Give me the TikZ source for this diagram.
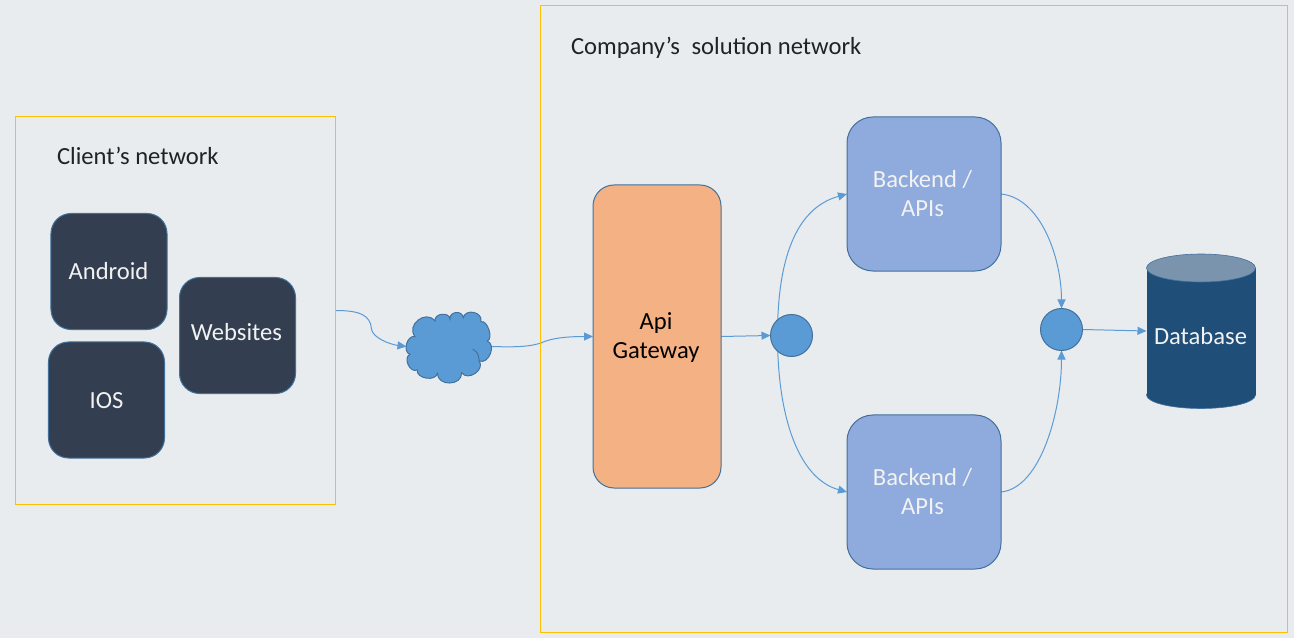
\documentclass[tikz,border=0pt]{standalone}
\usepackage{fontspec}
\setmainfont{Carlito}
\usetikzlibrary{arrows.meta,backgrounds}
\definecolor{pagebg}{HTML}{E8ECEF}
\definecolor{edgeblue}{HTML}{41719C}
\definecolor{linkblue}{HTML}{5B9BD5}
\definecolor{frameyellow}{HTML}{FFC000}
\definecolor{darkbox}{HTML}{333F50}
\definecolor{backendblue}{HTML}{8FAADC}
\definecolor{gatewayorange}{HTML}{F4B183}
\definecolor{dbblue}{HTML}{1F4E79}
\definecolor{dbtop}{HTML}{7A94AE}
\definecolor{inktext}{HTML}{1E2328}
\tikzset{
  x=1bp,y=-1bp,
  every node/.style={font=\fontsize{24.7}{29}\selectfont,align=center,inner sep=0pt,outer sep=0pt},
  netframe/.style={draw=frameyellow,line width=1bp,fill=none},
  netlabel/.style={anchor=west,text=inktext},
  paletext/.style={text=white!95!black},
  clientbox/.style={draw=edgeblue,line width=1bp,fill=darkbox,rounded corners=20bp,minimum width=116bp,minimum height=116bp},
  backendbox/.style={draw=edgeblue,line width=1bp,fill=backendblue,rounded corners=26bp,minimum width=154bp,minimum height=154bp},
  gatewaybox/.style={draw=edgeblue,line width=1bp,fill=gatewayorange,rounded corners=21bp,minimum width=128bp,minimum height=303bp},
  hub/.style={circle,draw=edgeblue,line width=1bp,fill=linkblue,minimum size=42bp},
  link/.style={draw=linkblue,line width=1bp,-{Triangle[length=9bp,width=8bp]}},
  lobe/.style={bend left=90,looseness=#1},
}
\begin{document}
\begin{tikzpicture}
\useasboundingbox (0,0) rectangle (1294,638);
\begin{scope}[on background layer]
  \fill[pagebg] (0,0) rectangle (1294,638);
\end{scope}
\node[netframe,minimum width=320bp,minimum height=388bp] (clientnet) at (175.5,310.5) {};
\node[netframe,minimum width=747bp,minimum height=627bp] (companynet) at (914,319) {};
\node[netlabel] (clientlabel) at (57,156) {Client’s network};
\node[netlabel] (companylabel) at (571,48) {Company’s\hspace{6pt} solution network};
\node[clientbox] (android) at (109,271.5) {};
\node[clientbox] (websites) at (237.5,335.5) {};
\node[clientbox] (ios) at (106.5,400) {};
\node[paletext] (androidtext) at (108.5,271.5) {Android};
\node[paletext] (websitestext) at (236.5,332.5) {Websites};
\node[paletext] (iostext) at (106.5,400.5) {IOS};
\node[gatewaybox] (gateway) at (657,336.5) {};
\node[text=black] (gatewaytext) at (656,337.5) {Api\\Gateway};
\node[backendbox] (backendA) at (924,194) {};
\node[backendbox] (backendB) at (924,492) {};
\node[paletext] (backendAtext) at (922.5,193.5) {Backend /\\APIs};
\node[paletext] (backendBtext) at (922.5,491.5) {Backend /\\APIs};
\node[hub] (hubA) at (791.5,335.5) {};
\node[hub] (hubB) at (1061.5,329.5) {};
\node[minimum width=85bp,minimum height=70bp] (cloud) at (449,346.5) {};
\fill[linkblue,draw=edgeblue,line width=1bp]
  (410,354.3) to[lobe=1.15] (415,336.7)
  to[lobe=1.5] (435,321)
  to[lobe=1.3] (450,319)
  to[lobe=1.5] (463.3,317.7)
  to[lobe=1.4] (481,321.7)
  to[lobe=0.85] (487.3,341)
  to[lobe=1.2] (479.3,361)
  to[lobe=1.3] (461.7,372.7)
  to[lobe=1.4] (437.3,373.3)
  to[lobe=1.1] (417.3,370)
  to[lobe=1.2] cycle;
\draw[edgeblue,line width=1bp] (472.7,349) .. controls (478,353) .. (479.3,361);
\node[minimum width=109bp,minimum height=154bp] (db) at (1201,331) {};
\fill[dbblue,draw=edgeblue,line width=0.6bp] (1201,395) ellipse[x radius=54.5,y radius=13.5];
\fill[dbblue] (1146.5,268) rectangle (1255.5,395);
\fill[dbtop,draw=edgeblue,line width=0.6bp] (1201,268) ellipse[x radius=54.5,y radius=14];
\node[paletext] (dblabel) at (1200.5,336) {Database};
\begin{scope}[on background layer]
  \draw[link] (clientnet.east) .. controls +(24,0) and +(-1,-14) .. (371.5,329)
     .. controls +(1,9) and +(-16,-2) .. (cloud.west);
  \draw[link] (cloud.east) .. controls +(30,1) and +(-10,3) .. (541,343)
     .. controls +(10,-5) and +(-25,0) .. (gateway.west);
  \draw[link] (gateway.east) -- (hubA.west);
  \path (hubA.center) ++(-14,0) coordinate (fork);
  \draw[link] (fork) .. controls +(0,-85) and +(-47,13) .. (backendA.west);
  \draw[link] (fork) .. controls +(0,85) and +(-47,-13) .. (backendB.west);
  \draw[link] (backendA.east) .. controls +(40,4) and +(0,-50) .. (hubB.north);
  \draw[link] (backendB.east) .. controls +(40,-4) and +(0,60) .. (hubB.south);
  \draw[link] (hubB.east) -- (db.west);
\end{scope}
\end{tikzpicture}
\end{document}
